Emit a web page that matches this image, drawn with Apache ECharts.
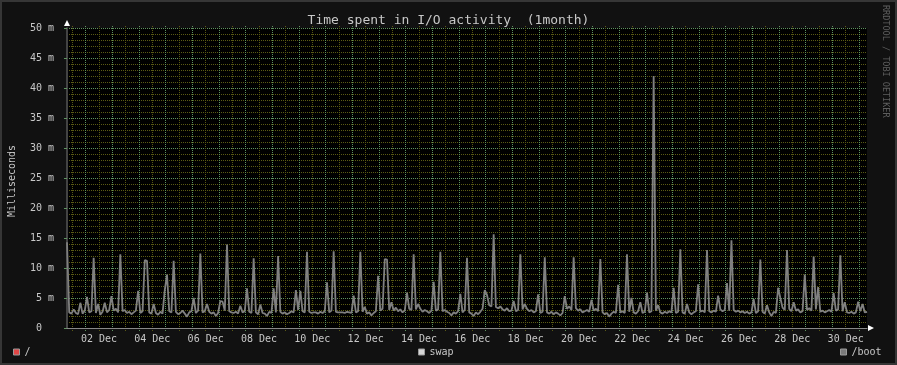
<!DOCTYPE html>
<html>
<head>
<meta charset="utf-8">
<script src="https://cdn.jsdelivr.net/npm/echarts@6/dist/echarts.min.js"></script>
<style>
html,body{margin:0;padding:0;background:#111111;}
#chart{width:897px;height:365px;}
</style>
</head>
<body>
<div id="chart"></div>
<script>
// ---- data ----
const titleText = 'Time spent in I/O activity  (1month)';
const yAxisName = 'Milliseconds';
const creditText = 'RRDTOOL / TOBI OETIKER';
const seriesNames = ['/', 'swap', '/boot'];
const seriesColors = ['#e24646', '#d6d6d6', '#7a7a7a'];
// hours after 01 Dec 00:00 at the left edge of the plot, sample step (h), span (h)
const START_HOUR = 7.2;
const STEP_HOURS = 2;
const SPAN_HOURS = 720;
// grid spacing in hours (minor / major)
const MINOR_GRID_HOURS = 12;
const MAJOR_GRID_HOURS = 24;
// x tick labels, placed at noon of every second day from 02 Dec to 30 Dec
const xTickLabels = ['02 Dec','04 Dec','06 Dec','08 Dec','10 Dec','12 Dec','14 Dec','16 Dec',
  '18 Dec','20 Dec','22 Dec','24 Dec','26 Dec','28 Dec','30 Dec'];
const FIRST_LABEL_HOUR = 36, LABEL_STEP_HOURS = 48;
const yMin = 0, yMax = 50, yStep = 5;
// /boot I/O time in ms, one value every 2 hours
const bootValues = [
  14.3,2.6,2.4,3.1,2.5,2.3,4.2,2.4,2.9,5.2,2.6,2.8,11.7,2.5,4.0,2.2,2.7,4.2,2.6,3.0,
  5.3,2.9,3.2,2.6,12.3,2.8,3.0,2.5,2.7,2.3,2.6,2.9,6.2,2.5,2.8,11.3,11.2,2.6,2.4,4.0,
  2.5,2.2,2.7,2.4,6.3,8.9,2.8,2.6,11.2,2.7,2.3,2.5,2.9,2.4,1.9,2.6,2.8,5.0,2.5,2.9,
  12.4,2.6,2.8,4.0,2.7,2.4,2.6,2.0,2.5,4.5,4.4,2.9,13.9,2.8,2.6,2.5,2.7,2.4,3.7,2.6,
  2.8,6.6,2.7,2.5,11.6,2.6,2.3,3.9,2.5,2.4,2.0,2.7,2.5,6.6,2.6,12.0,2.7,2.4,2.6,2.3,
  2.5,2.8,2.6,6.3,3.0,6.2,2.8,2.6,12.7,2.7,2.5,2.6,2.6,2.4,2.7,2.5,2.8,7.6,2.6,2.9,
  12.8,2.7,2.6,2.6,2.6,2.5,2.7,2.6,2.5,5.4,2.6,2.8,12.7,2.7,3.5,2.4,2.6,2.1,2.5,2.8,
  8.7,2.9,3.2,11.5,11.4,3.0,4.3,2.9,3.4,2.8,3.1,2.6,2.9,5.9,3.2,3.0,12.3,3.1,4.0,3.2,
  2.7,3.0,2.8,2.5,2.9,7.7,2.9,3.1,12.7,2.8,3.0,2.7,2.5,2.1,2.6,2.4,2.8,5.7,2.6,3.0,
  11.7,2.6,2.4,2.0,2.6,2.3,2.7,3.2,6.3,5.5,3.8,3.6,15.6,3.5,3.3,3.6,3.1,2.9,3.3,2.8,
  2.9,4.5,2.8,3.0,12.3,3.1,4.0,3.2,2.8,3.0,2.6,2.8,5.6,2.5,2.7,11.8,2.6,2.4,2.7,2.3,
  2.6,2.4,2.1,2.5,5.3,3.2,3.6,3.0,11.8,3.3,2.9,3.1,2.6,2.8,3.0,2.7,4.7,2.9,3.2,2.8,
  11.5,2.6,2.3,2.5,1.9,2.4,2.7,2.5,7.2,2.6,2.8,2.5,12.3,2.7,5.0,2.6,2.4,2.8,4.3,2.5,
  2.7,5.9,2.6,2.8,42.0,2.9,3.8,2.6,2.4,2.7,2.5,2.8,2.6,6.7,2.5,2.7,13.1,2.6,2.4,4.0,
  2.6,2.3,2.6,2.8,7.3,2.7,2.9,2.6,13.0,2.8,2.6,2.9,2.7,5.4,3.1,2.8,3.0,7.5,2.9,14.6,
  3.0,2.7,2.9,2.6,2.8,2.5,2.7,2.4,2.6,4.8,2.5,2.8,11.4,2.7,2.4,3.8,2.6,2.0,2.7,2.5,
  6.7,5.0,3.4,3.0,13.0,3.2,2.8,4.3,2.9,3.1,2.6,2.8,8.9,3.0,3.3,2.9,11.9,3.1,6.8,2.7,
  2.9,2.6,2.8,3.0,2.7,5.8,2.9,3.1,12.1,2.8,4.3,2.6,2.5,2.7,2.4,2.6,4.4,2.8,4.0,2.6,
  2.7
];

// ---- layout ----
const FONT = "'DejaVu Sans Mono', monospace";
const PLOT_LEFT = 67, PLOT_TOP = 28, PLOT_W = 800, PLOT_H = 300;
const pxPerHour = PLOT_W / SPAN_HOURS;
const hx = h => PLOT_LEFT + (h - START_HOUR) * pxPerHour;
const endHour = START_HOUR + SPAN_HOURS;
const lastLabelHour = FIRST_LABEL_HOUR + (xTickLabels.length - 1) * LABEL_STEP_HOURS;
const MAJOR = '#5f935f', MINOR = '#5a5a14', TXT = '#c8c8c8';

// vertical grid positions (hours), every 12 h inside the plotted range
const gridHours = [];
for (let h = Math.ceil(START_HOUR / MINOR_GRID_HOURS) * MINOR_GRID_HOURS; h <= endHour; h += MINOR_GRID_HOURS) {
  gridHours.push([h, h % MAJOR_GRID_HOURS === 0 ? 1 : 0]);
}
gridHours.sort((a, b) => a[1] - b[1]);   // minor first, major on top

const chart = echarts.init(document.getElementById('chart'), null, {renderer: 'canvas'});
const seriesData = bootValues.map((v, i) => [START_HOUR + i * STEP_HOURS, v]);

chart.setOption({
  animation: false,
  backgroundColor: '#111111',
  title: {text: titleText, left: 'center', top: 9,
    textStyle: {color: TXT, fontFamily: FONT, fontSize: 13, fontWeight: 'normal'}},
  grid: [
    {left: PLOT_LEFT, top: PLOT_TOP, width: PLOT_W, height: PLOT_H, show: true,
     backgroundColor: '#000000', borderWidth: 0, z: 0},
    {left: hx(FIRST_LABEL_HOUR), top: PLOT_TOP, width: hx(lastLabelHour) - hx(FIRST_LABEL_HOUR), height: PLOT_H}
  ],
  xAxis: [
    {type: 'value', gridIndex: 0, min: START_HOUR, max: endHour, z: 2,
     axisLine: {show: true, lineStyle: {color: '#888888', width: 1}},
     axisTick: {show: false}, axisLabel: {show: false}, splitLine: {show: false}},
    {type: 'category', gridIndex: 1, data: xTickLabels, boundaryGap: false, z: 2,
     axisLine: {show: false}, axisTick: {show: false}, splitLine: {show: false},
     axisLabel: {show: true, interval: 0, margin: 6, color: TXT, fontFamily: FONT, fontSize: 10}}
  ],
  yAxis: [
    {type: 'value', gridIndex: 0, min: yMin, max: yMax, interval: yStep, z: 1,
     axisLine: {show: true, lineStyle: {color: '#444444', width: 2}},
     axisTick: {show: true, length: 3, lineStyle: {color: MAJOR}},
     axisLabel: {color: TXT, fontFamily: FONT, fontSize: 10, margin: 13,
       formatter: v => v === 0 ? '0  ' : v + ' m'},
     minorTick: {show: false, splitNumber: 5},
     minorSplitLine: {show: true, lineStyle: {color: MINOR, type: [1, 1], width: 1}},
     splitLine: {show: true, lineStyle: {color: MAJOR, type: [1, 1], width: 1}}},
    {type: 'value', gridIndex: 1, show: false}
  ],
  legend: [
    {data: [seriesNames[0]], left: 13, top: 347},
    {data: [seriesNames[1]], left: 418, top: 347},
    {data: [seriesNames[2]], left: 840, top: 347}
  ].map(l => Object.assign(l, {
    padding: 0, itemWidth: 6, itemHeight: 6, icon: 'rect', selectedMode: false,
    itemStyle: {borderColor: '#9a9a9a', borderWidth: 1},
    textStyle: {color: TXT, fontFamily: FONT, fontSize: 10}
  })),
  series: [
    {type: 'custom', xAxisIndex: 0, yAxisIndex: 0, data: gridHours, z: 1, silent: true,
     renderItem: (params, api) => {
       const h = api.value(0), major = api.value(1) === 1;
       const top = api.coord([h, yMax]), bot = api.coord([h, yMin]);
       const x = Math.floor(top[0]) + 0.5;
       return {type: 'line', shape: {x1: x, y1: top[1] - 2, x2: x, y2: bot[1] + 3},
         style: {stroke: major ? MAJOR : MINOR, lineWidth: 1, lineDash: [1, 1]}};
     }},
    {name: seriesNames[0], type: 'line', xAxisIndex: 0, yAxisIndex: 0, data: [],
     itemStyle: {color: seriesColors[0]}, lineStyle: {color: seriesColors[0]}},
    {name: seriesNames[1], type: 'line', xAxisIndex: 0, yAxisIndex: 0, data: [],
     itemStyle: {color: seriesColors[1]}, lineStyle: {color: seriesColors[1]}},
    {name: seriesNames[2], type: 'line', xAxisIndex: 0, yAxisIndex: 0, data: seriesData, z: 5,
     showSymbol: false, symbol: 'none',
     itemStyle: {color: seriesColors[2]}, lineStyle: {color: '#808080', width: 1.8}}
  ],
  graphic: [
    {type: 'rect', shape: {x: 1, y: 1, width: 895, height: 363}, z: -10, silent: true,
     style: {fill: 'none', stroke: '#363636', lineWidth: 2}},
    {type: 'polygon', shape: {points: [[64, 26], [70, 26], [67, 20]]}, z: 10, style: {fill: '#ffffff'}},
    {type: 'polygon', shape: {points: [[868, 325], [868, 331], [874, 328]]}, z: 10, style: {fill: '#ffffff'}},
    {type: 'text', x: 12, y: 181, rotation: Math.PI / 2, z: 10,
     style: {text: yAxisName, fill: TXT, font: '10px ' + FONT, align: 'center', verticalAlign: 'middle'}},
    {type: 'text', x: 890, y: 5, rotation: -Math.PI / 2, z: 10,
     style: {text: creditText, fill: '#5e5e5e', font: '8.5px ' + FONT, verticalAlign: 'top'}}
  ]
});
</script>
</body>
</html>
